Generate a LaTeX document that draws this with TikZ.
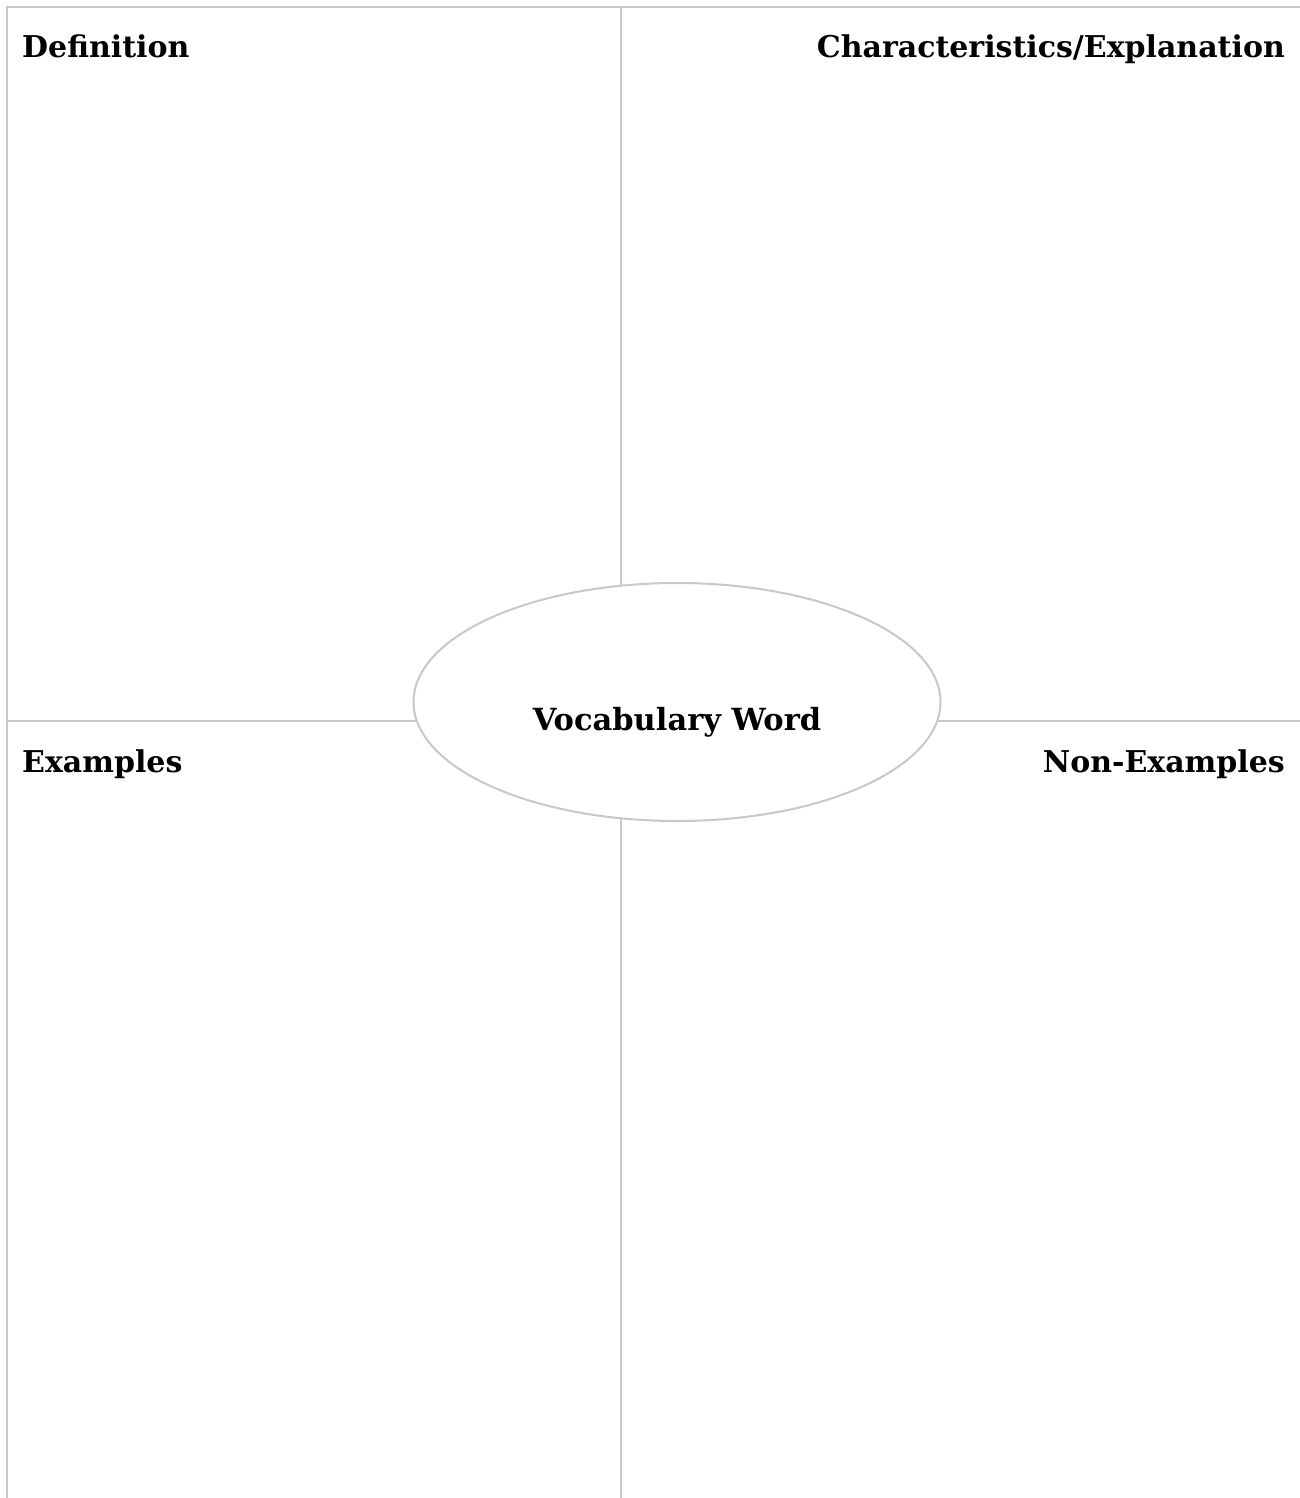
\documentclass[tikz,border=0pt]{standalone}
\usepackage{fontspec}
\setmainfont{DejaVu Serif}
\usetikzlibrary{shapes.geometric}
\definecolor{rule}{RGB}{200,200,200}
\tikzset{
  frame/.style={draw=rule, line width=2pt},
  head/.style={font=\bfseries\fontsize{30}{36}\selectfont, inner sep=0pt},
  word/.style={ellipse, draw=rule, line width=2pt, fill=white, minimum width=527pt, minimum height=238pt, inner sep=0pt}
}
\begin{document}
\begin{tikzpicture}[x=1pt,y=-1pt]
\useasboundingbox (0,0) rectangle (1300,1498);
\coordinate (tl) at (7,7);
\coordinate (tr) at (1300,7);
\coordinate (bl) at (7,1498);
\coordinate (tm) at (621,7);
\coordinate (bm) at (621,1498);
\coordinate (ml) at (7,721);
\coordinate (mr) at (1300,721);
\draw[frame] (tr) -- (tl) -- (bl);
\draw[frame] (tm) -- (bm);
\draw[frame] (ml) -- (mr);
\node[word] (vw) at (677,702) {};
\node[head, anchor=base, font=\bfseries\fontsize{30.5}{36}\selectfont] (vwt) at (677,730) {Vocabulary Word};
\node[head, anchor=base west] (def) at (22,58) {Definition};
\node[head, anchor=base east] (char) at (1285,58) {Characteristics/Explanation};
\node[head, anchor=base west] (ex) at (22,772) {Examples};
\node[head, anchor=base east] (nex) at (1285,772) {Non-Examples};
\end{tikzpicture}
\end{document}
